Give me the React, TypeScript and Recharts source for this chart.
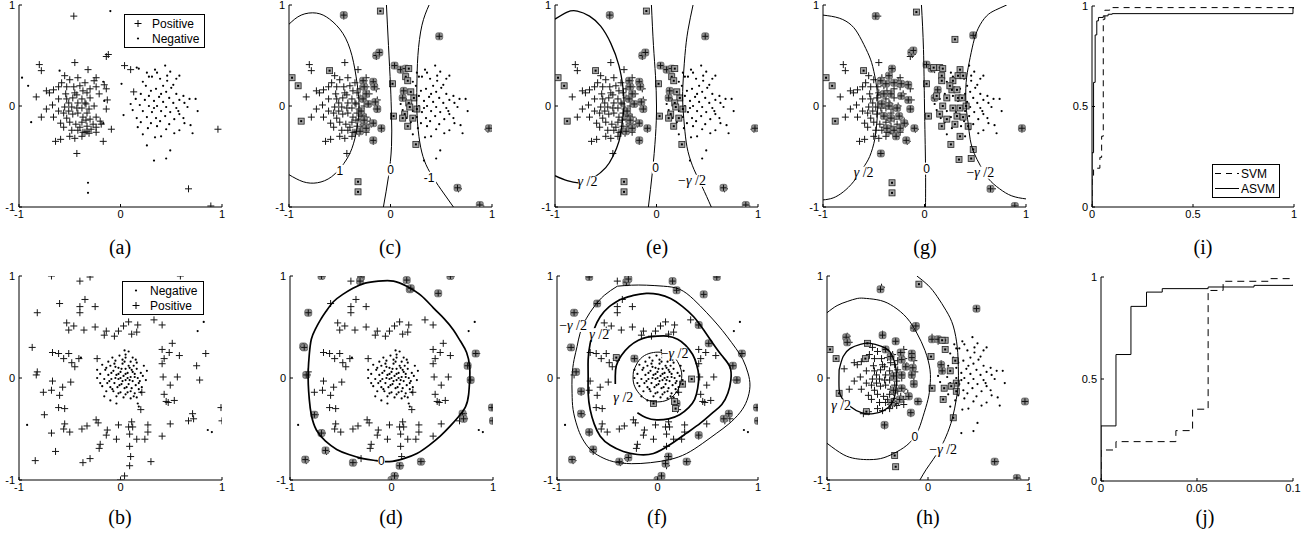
import React from 'react';
import { ScatterChart, Scatter, XAxis, YAxis } from 'recharts';

type Pt = { x: number; y: number };
type Lbl = { x: number; y: number; text: string };

// ---- dataset 1 (panels a, c, e, g, h) ----
const pos1 = [
  [-0.80, 0.41], [-0.78, 0.35], [-0.45, 0.43], [-0.32, 0.36], [-0.55, 0.30], [-0.50, 0.26], [-0.42, 0.28],
  [-0.58, 0.23], [-0.61, 0.19], [-0.66, 0.16], [-0.73, 0.15], [-0.70, 0.13], [-0.53, 0.19], [-0.46, 0.19],
  [-0.40, 0.20], [-0.35, 0.23], [-0.26, 0.25], [-0.24, 0.19], [-0.16, 0.21], [-0.14, 0.17], [-0.83, 0.09],
  [-0.61, 0.07], [-0.53, 0.07], [-0.47, 0.08], [-0.43, 0.11], [-0.33, 0.13], [-0.30, 0.08], [-0.21, 0.12],
  [-0.13, 0.06], [-0.67, 0.01], [-0.51, 0.03], [-0.48, -0.01], [-0.42, 0.03], [-0.38, -0.02], [-0.34, 0.02],
  [-0.31, -0.03], [-0.26, 0.00], [-0.14, -0.03], [-0.73, -0.03], [-0.78, -0.11], [-0.66, -0.11], [-0.56, -0.07],
  [-0.51, -0.05], [-0.47, -0.08], [-0.42, -0.07], [-0.37, -0.11], [-0.33, -0.07], [-0.30, -0.13], [-0.24, -0.11],
  [-0.20, -0.15], [-0.59, -0.17], [-0.50, -0.16], [-0.44, -0.18], [-0.38, -0.16], [-0.33, -0.20], [-0.27, -0.18],
  [-0.19, -0.18], [-0.09, -0.23], [-0.56, -0.21], [-0.48, -0.24], [-0.42, -0.24], [-0.37, -0.26], [-0.33, -0.25],
  [-0.29, -0.23], [-0.24, -0.21], [-0.17, -0.35], [-0.50, -0.30], [-0.45, -0.32], [-0.38, -0.30], [-0.59, -0.33],
  [-0.64, -0.35], [-0.43, -0.47], [-0.35, -0.26], [-0.31, -0.27], [-0.12, 0.51], [-0.14, 0.49], [0.04, 0.40],
  [0.10, 0.36], [0.13, 0.14], [-0.46, 0.89], [0.96, -0.23], [0.67, -0.82], [0.89, -0.99], [-0.24, 0.28],
  [-0.37, 0.15], [-0.45, 0.13], [-0.54, 0.12], [-0.30, 0.17], [-0.38, 0.07], [-0.35, 0.03], [-0.43, -0.02],
  [-0.55, -0.01], [-0.61, -0.05], [-0.34, -0.14], [-0.40, -0.21], [-0.24, -0.26], [-0.53, -0.12],
];
const neg1 = [
  [-0.10, 0.94], [-0.97, 0.28], [-0.91, 0.20], [-0.88, -0.16], [-0.32, -0.76], [-0.32, -0.86], [-0.60, 0.35],
  [0.44, 0.40], [0.34, 0.36], [0.49, 0.34], [0.58, 0.30], [0.28, 0.29], [0.31, 0.29], [0.39, 0.27], [0.46, 0.25],
  [0.16, 0.38], [0.18, 0.37], [0.01, 0.22], [0.55, 0.27], [0.22, 0.24], [0.25, 0.20], [0.42, 0.20], [0.50, 0.18],
  [0.35, 0.17], [0.30, 0.15], [0.45, 0.14], [0.55, 0.12], [0.62, 0.10], [0.20, 0.12], [0.28, 0.10], [0.38, 0.09],
  [0.48, 0.08], [0.58, 0.06], [0.68, 0.07], [0.74, 0.07], [0.15, 0.07], [0.24, 0.06], [0.33, 0.05], [0.42, 0.04],
  [0.52, 0.03], [0.63, 0.03], [0.10, 0.02], [0.19, 0.01], [0.28, 0.00], [0.36, 0.00], [0.45, -0.01], [0.55, -0.02],
  [0.66, -0.01], [0.76, -0.05], [0.12, -0.04], [0.22, -0.05], [0.31, -0.06], [0.40, -0.05], [0.49, -0.06],
  [0.58, -0.08], [0.03, -0.09], [0.16, -0.12], [0.26, -0.11], [0.35, -0.12], [0.44, -0.10], [0.53, -0.13],
  [0.62, -0.12], [0.20, -0.16], [0.30, -0.17], [0.39, -0.15], [0.48, -0.18], [0.17, -0.21], [0.27, -0.22],
  [0.36, -0.20], [0.45, -0.23], [0.53, -0.27], [0.58, -0.24], [0.69, -0.19], [0.71, -0.27], [0.34, -0.31],
  [0.26, -0.39], [0.33, -0.54], [0.45, -0.52], [0.49, -0.44], [0.40, -0.30], [0.22, -0.28], [0.63, -0.17],
  [0.52, 0.21], [0.36, 0.33], [0.26, 0.33], [0.40, 0.12], [0.33, -0.02], [0.57, -0.05], [0.46, 0.30],
  [-0.17, 0.24], [-0.16, 0.05], [-0.17, -0.17],
];

// ---- dataset 2 (panels b, d, f) ----
const pos2 = [
  [-0.68, 1.0], [-0.30, 0.99], [-0.40, 0.95], [0.59, 1.0], [-0.35, 0.77], [-0.60, 0.73], [-0.40, 0.70],
  [-0.25, 0.70], [-0.40, 0.64], [-0.82, 0.64], [-0.53, 0.54], [-0.46, 0.51], [-0.51, 0.47], [-0.36, 0.47],
  [-0.25, 0.50], [-0.14, 0.46], [-0.16, 0.42], [-0.06, 0.41], [-0.02, 0.46], [0.03, 0.51], [0.08, 0.55],
  [0.11, 0.43], [0.17, 0.52], [0.16, 0.45], [0.33, 0.57], [0.41, 0.52], [-0.87, 0.30], [-0.67, 0.25],
  [-0.61, 0.24], [-0.56, 0.19], [-0.51, 0.24], [-0.48, 0.15], [-0.41, 0.19], [-0.45, 0.11], [-0.23, 0.19],
  [0.51, 0.34], [0.41, 0.28], [0.48, 0.25], [0.58, 0.22], [0.43, 0.19], [0.41, 0.14], [0.84, 0.24],
  [0.75, 0.12], [0.78, -0.02], [-0.82, 0.06], [-0.83, 0.03], [-0.67, -0.03], [-0.76, -0.14], [-0.68, -0.12],
  [-0.57, -0.09], [-0.60, -0.17], [-0.49, -0.04], [-0.61, -0.29], [-0.55, -0.30], [-0.75, -0.36],
  [0.42, 0.01], [0.56, 0.01], [0.49, -0.07], [0.21, -0.14], [0.20, -0.31], [0.43, -0.16], [0.45, -0.23],
  [0.53, -0.22], [0.47, -0.24], [0.99, -0.29], [1.0, -0.42], [0.71, -0.35], [0.72, -0.40], [0.67, -0.42],
  [0.49, -0.45], [-0.55, -0.45], [-0.56, -0.50], [-0.50, -0.53], [-0.68, -0.54], [-0.38, -0.50],
  [-0.33, -0.47], [-0.24, -0.41], [-0.22, -0.44], [-0.13, -0.51], [-0.14, -0.56], [-0.04, -0.60],
  [-0.02, -0.46], [0.08, -0.48], [0.09, -0.55], [0.11, -0.43], [0.12, -0.48], [0.09, -0.67], [0.16, -0.60],
  [0.24, -0.60], [0.27, -0.53], [0.27, -0.46], [0.41, -0.57], [-0.20, -0.65], [-0.21, -0.69], [-0.64, -0.72],
  [-0.84, -0.81], [-0.37, -0.83], [-0.30, -0.79], [0.10, -0.77], [0.09, -0.86], [0.04, -0.96], [0.30, -0.82],
  [0.0, -1.0],
];
const neg2 = [
  [0.04, 0.27], [0.05, 0.20], [0.10, 0.16], [-0.05, 0.17], [0.02, 0.14], [0.08, 0.12], [0.13, 0.12],
  [-0.10, 0.12], [-0.02, 0.10], [0.05, 0.09], [0.11, 0.08], [0.16, 0.09], [-0.15, 0.08], [-0.07, 0.07],
  [0.00, 0.06], [0.07, 0.05], [0.14, 0.04], [0.20, 0.05], [-0.20, 0.04], [-0.12, 0.03], [-0.04, 0.03],
  [0.03, 0.02], [0.10, 0.01], [0.17, 0.00], [-0.23, 0.00], [-0.16, -0.01], [-0.09, -0.01], [-0.02, -0.01],
  [0.05, -0.02], [0.12, -0.03], [0.19, -0.03], [0.25, -0.02], [-0.13, -0.05], [-0.06, -0.05], [0.01, -0.06],
  [0.08, -0.06], [0.15, -0.07], [-0.18, -0.08], [-0.10, -0.09], [-0.03, -0.09], [0.04, -0.10], [0.11, -0.10],
  [0.18, -0.11], [-0.14, -0.13], [-0.07, -0.13], [0.00, -0.14], [0.07, -0.14], [0.14, -0.15], [-0.04, -0.18],
  [0.03, -0.19], [0.16, -0.19], [-0.04, -0.25], [0.17, -0.25], [0.18, -0.28], [0.21, -0.09], [0.23, 0.12],
  [-0.18, 0.13], [-0.08, 0.20], [0.12, 0.20], [0.08, 0.26], [-0.01, 0.22], [0.04, 0.16], [-0.12, 0.16],
  [0.16, 0.15], [-0.05, 0.11], [0.09, 0.10], [0.01, 0.09], [-0.09, 0.05], [0.05, 0.04], [0.12, 0.06],
  [-0.02, 0.04], [-0.05, 0.00], [0.02, -0.03], [0.09, -0.02], [-0.11, -0.03], [0.14, 0.01], [-0.01, -0.07],
  [0.06, -0.09], [-0.08, -0.11], [0.10, -0.13], [-0.02, -0.15], [0.05, -0.16], [0.20, -0.14], [-0.20, -0.05],
  [-0.23, 0.08], [0.22, 0.02], [0.26, 0.07], [-0.16, -0.18], [0.10, -0.20], [-0.10, -0.22], [0.07, 0.00],
  [0.00, 0.00], [-0.06, 0.14], [0.18, -0.05], [0.13, -0.18], [0.02, 0.18], [-0.14, 0.10], [0.15, 0.18],
  [0.05, 0.23], [-0.92, -0.46], [0.76, 0.46], [0.82, 0.55], [0.86, -0.51], [0.90, -0.53], [-0.39, 0.20],
];

// ---- support vectors per panel ----
const svPosCE = [
  [-0.46, 0.90], [0.48, 0.69], [-0.14, 0.50], [-0.11, 0.53], [0.04, 0.40], [0.10, 0.36], [0.15, 0.37],
  [-0.17, 0.24], [-0.16, 0.19], [-0.27, 0.25], [-0.26, 0.19], [-0.27, 0.07], [-0.15, 0.04], [-0.13, -0.03],
  [-0.17, -0.17], [-0.26, -0.20], [-0.28, -0.10], [-0.09, -0.22], [-0.17, -0.34], [0.66, -0.81], [0.97, -0.22],
  [0.88, -0.98], [0.13, 0.15], [0.12, 0.08], [-0.26, -0.14], [-0.30, -0.25], [-0.24, 0.12], [-0.22, 0.02],
  [-0.29, -0.05], [-0.24, -0.22],
];
const svNegCE = [
  [-0.10, 0.94], [-0.60, 0.35], [-0.97, 0.28], [-0.91, 0.20], [-0.88, -0.15], [-0.32, -0.75], [-0.32, -0.85],
  [0.02, 0.22], [0.03, -0.10], [0.15, 0.29], [0.17, 0.25], [0.23, 0.08], [0.18, 0.03], [0.19, -0.01],
  [0.14, -0.08], [0.26, -0.03], [0.22, -0.12], [0.17, -0.20], [0.25, -0.38], [0.18, 0.37], [0.12, -0.12],
  [0.20, 0.14],
];
const svPosG = [
  [-0.48, 0.89], [0.48, 0.70], [-0.13, 0.53], [-0.11, 0.55], [0.02, 0.41], [0.07, 0.37], [-0.32, 0.37],
  [-0.43, 0.25], [-0.38, 0.22], [-0.30, 0.23], [-0.23, 0.22], [-0.16, 0.21], [-0.40, 0.12], [-0.33, 0.12],
  [-0.23, 0.10], [-0.16, 0.06], [-0.42, 0.02], [-0.35, 0.00], [-0.27, -0.02], [-0.14, -0.03], [-0.40, -0.10],
  [-0.33, -0.12], [-0.25, -0.10], [-0.20, -0.17], [-0.37, -0.22], [-0.30, -0.24], [-0.24, -0.22], [-0.10, -0.22],
  [-0.18, -0.34], [-0.43, -0.47], [0.65, -0.82], [0.96, -0.22], [0.89, -0.99], [0.13, 0.16], [0.10, 0.08],
  [-0.35, 0.30], [-0.28, -0.30],
];
const svNegG = [
  [-0.08, 0.93], [-0.60, 0.35], [-0.97, 0.28], [-0.91, 0.20], [-0.88, -0.15], [-0.32, -0.76], [-0.32, -0.86],
  [0.30, 0.66], [0.02, 0.22], [0.04, -0.10], [0.09, 0.38], [0.15, 0.38], [0.18, 0.37], [0.17, 0.30],
  [0.17, 0.25], [0.28, 0.25], [0.33, 0.30], [0.35, 0.36], [0.38, 0.30], [0.27, 0.16], [0.32, 0.16],
  [0.22, 0.08], [0.33, 0.08], [0.37, 0.08], [0.18, 0.00], [0.28, -0.02], [0.35, -0.02], [0.41, 0.00],
  [0.15, -0.08], [0.22, -0.13], [0.32, -0.10], [0.38, -0.11], [0.17, -0.20], [0.43, -0.20], [0.35, -0.30],
  [0.26, -0.38], [0.48, -0.43], [0.46, -0.52], [0.34, -0.53], [0.25, 0.20], [0.30, -0.18], [0.12, 0.10],
];
const svPosH = [
  [-0.47, 0.87], [-0.14, 0.49], [-0.12, 0.51], [0.04, 0.38], [0.10, 0.38], [-0.81, 0.40], [-0.80, 0.35],
  [-0.45, 0.42], [-0.32, 0.36], [-0.42, 0.28], [-0.27, 0.25], [-0.16, 0.24], [-0.16, 0.20], [-0.26, 0.18],
  [-0.37, 0.21], [-0.22, 0.11], [-0.15, 0.10], [-0.26, 0.03], [-0.34, 0.02], [-0.16, 0.03], [-0.14, -0.06],
  [-0.26, -0.10], [-0.34, -0.12], [-0.19, -0.18], [-0.28, -0.21], [-0.36, -0.24], [-0.10, -0.23],
  [-0.17, -0.34], [-0.43, -0.46], [0.66, -0.82], [0.96, -0.23], [0.88, -0.98], [0.48, 0.68], [0.13, 0.13],
  [0.14, 0.07],
];
const svNegH = [
  [-0.09, 0.92], [-0.60, 0.34], [-0.97, 0.28], [-0.91, 0.19], [-0.88, -0.15], [-0.61, -0.33], [-0.33, -0.76],
  [-0.32, -0.87], [0.03, 0.21], [0.04, -0.10], [0.25, -0.39], [0.17, 0.37], [0.14, 0.37], [0.17, 0.28],
  [0.27, 0.17], [0.22, 0.07], [0.28, -0.05], [0.16, -0.10], [0.23, -0.08], [0.28, -0.13], [0.15, -0.21],
  [-0.62, 0.19],
];
const svPosD = [
  [-0.69, 1.0], [-0.30, 0.99], [-0.31, 0.95], [0.15, 0.96], [0.18, 0.87], [0.19, 0.88], [0.46, 0.83],
  [0.58, 1.0], [-0.82, 0.64], [-0.87, 0.31], [-0.86, 0.30], [0.83, 0.24], [0.75, 0.12], [0.78, -0.02],
  [-0.84, 0.03], [-0.76, -0.36], [0.99, -0.29], [1.0, -0.42], [0.70, -0.35], [0.71, -0.40], [-0.69, -0.54],
  [-0.65, -0.71], [-0.85, -0.80], [-0.38, -0.83], [0.08, -0.86], [0.29, -0.82], [0.0, -1.0], [0.03, -0.96],
];
const svPosF = [
  [-0.68, 0.99], [-0.31, 0.94], [-0.29, 0.97], [0.15, 0.95], [0.19, 0.86], [0.46, 0.82], [0.59, 0.99],
  [-0.60, 0.73], [-0.83, 0.64], [-0.86, 0.30], [0.41, 0.52], [0.51, 0.34], [0.84, 0.24], [0.75, 0.12],
  [0.79, -0.02], [-0.81, 0.06], [-0.76, -0.13], [-0.76, -0.35], [0.99, -0.29], [1.0, -0.42], [0.71, -0.35],
  [0.66, -0.40], [0.41, -0.56], [-0.68, -0.53], [-0.64, -0.70], [-0.85, -0.80], [-0.38, -0.82], [-0.29, -0.78],
  [0.11, -0.77], [0.08, -0.84], [0.29, -0.82], [0.0, -1.0], [0.04, -0.96], [-0.23, 0.19], [0.19, -0.25],
];
const svNegF = [
  [-0.41, 0.20], [0.34, -0.01], [0.25, -0.06], [-0.04, -0.25], [0.17, -0.23], [0.18, -0.30],
];

// ---- decision contours ----
const curveC1 = [[-1, 0.81], [-0.88, 0.90], [-0.73, 0.92], [-0.60, 0.86], [-0.47, 0.72], [-0.38, 0.50], [-0.33, 0.23], [-0.31, 0], [-0.33, -0.22], [-0.38, -0.42], [-0.46, -0.57], [-0.58, -0.70], [-0.72, -0.76], [-0.86, -0.75], [-1, -0.68]];
const curveC0 = [[-0.04, 1], [-0.02, 0.6], [0, 0.2], [0.01, -0.1], [0.01, -0.4], [-0.02, -0.7], [-0.07, -1]];
const curveCm1 = [[0.38, 1], [0.31, 0.8], [0.27, 0.5], [0.26, 0.2], [0.26, -0.05], [0.28, -0.3], [0.32, -0.5], [0.39, -0.66], [0.50, -0.83], [0.62, -1]];
const labelsC: Lbl[] = [{ x: -0.50, y: -0.64, text: '1' }, { x: 0.0, y: -0.63, text: '0' }, { x: 0.38, y: -0.71, text: '-1' }];

const curveEp = [[-1, 0.86], [-0.88, 0.93], [-0.78, 0.94], [-0.66, 0.89], [-0.55, 0.79], [-0.45, 0.62], [-0.37, 0.40], [-0.33, 0.18], [-0.32, 0], [-0.34, -0.18], [-0.37, -0.35], [-0.43, -0.50], [-0.50, -0.61], [-0.62, -0.71], [-0.75, -0.76], [-0.88, -0.74], [-1, -0.69]];
const curveE0 = [[-0.05, 1], [-0.03, 0.6], [-0.01, 0.3], [0, 0], [-0.01, -0.3], [-0.04, -0.65], [-0.08, -1]];
const curveEm = [[0.36, 1], [0.31, 0.75], [0.28, 0.5], [0.26, 0.2], [0.26, 0], [0.28, -0.25], [0.31, -0.45], [0.37, -0.63], [0.45, -0.80], [0.54, -1]];
const labelsE: Lbl[] = [{ x: -0.68, y: -0.75, text: 'γ/2' }, { x: -0.01, y: -0.61, text: '0' }, { x: 0.35, y: -0.74, text: '−γ/2' }];

const curveGp = [[-1, 0.90], [-0.84, 0.87], [-0.72, 0.80], [-0.64, 0.69], [-0.56, 0.53], [-0.51, 0.39], [-0.47, 0.18], [-0.46, 0], [-0.47, -0.17], [-0.49, -0.33], [-0.54, -0.50], [-0.61, -0.62], [-0.70, -0.75], [-0.80, -0.85], [-0.90, -0.91], [-1, -0.93]];
const curveG0 = [[-0.03, 1], [-0.01, 0.56], [0, 0], [0.01, -0.59], [0.01, -1]];
const curveGm = [[0.81, 1], [0.70, 0.95], [0.61, 0.89], [0.53, 0.77], [0.48, 0.62], [0.44, 0.43], [0.41, 0.23], [0.41, 0], [0.43, -0.17], [0.45, -0.33], [0.49, -0.47], [0.55, -0.59], [0.63, -0.72], [0.74, -0.82], [0.86, -0.89], [1, -0.92]];
const labelsG: Lbl[] = [{ x: -0.60, y: -0.66, text: 'γ/2' }, { x: 0.02, y: -0.62, text: '0' }, { x: 0.55, y: -0.66, text: '−γ/2' }];

const curveHin = [[-0.88, 0.08], [-0.84, 0.21], [-0.77, 0.29], [-0.67, 0.33], [-0.57, 0.34], [-0.46, 0.31], [-0.38, 0.26], [-0.33, 0.15], [-0.31, 0.02], [-0.32, -0.13], [-0.36, -0.25], [-0.44, -0.32], [-0.54, -0.35], [-0.66, -0.34], [-0.77, -0.28], [-0.85, -0.20], [-0.88, -0.11], [-0.88, 0.08]];
const curveH0 = [[-1, 0.64], [-0.90, 0.71], [-0.80, 0.75], [-0.70, 0.78], [-0.61, 0.78], [-0.47, 0.76], [-0.34, 0.70], [-0.21, 0.59], [-0.11, 0.44], [-0.03, 0.27], [0.02, 0.08], [0.02, -0.08], [0, -0.21], [-0.05, -0.38], [-0.11, -0.54], [-0.21, -0.66], [-0.34, -0.74], [-0.47, -0.79], [-0.61, -0.80], [-0.72, -0.79], [-0.84, -0.75], [-1, -0.64]];
const curveHm = [[-0.11, 1], [0.00, 0.91], [0.09, 0.80], [0.18, 0.66], [0.25, 0.51], [0.29, 0.30], [0.30, 0.11], [0.30, -0.05], [0.28, -0.21], [0.24, -0.40], [0.18, -0.57], [0.12, -0.69], [0.05, -0.80], [-0.02, -0.90], [-0.08, -1]];
const labelsH: Lbl[] = [{ x: -0.86, y: -0.27, text: 'γ/2' }, { x: -0.13, y: -0.57, text: '0' }, { x: 0.15, y: -0.70, text: '−γ/2' }];

const curveD0 = [[-0.13, 0.95], [0.02, 0.95], [0.15, 0.90], [0.29, 0.81], [0.41, 0.69], [0.52, 0.58], [0.61, 0.47], [0.68, 0.36], [0.74, 0.25], [0.77, 0.11], [0.77, -0.02], [0.76, -0.16], [0.73, -0.28], [0.66, -0.38], [0.58, -0.47], [0.48, -0.57], [0.37, -0.66], [0.25, -0.74], [0.12, -0.79], [-0.02, -0.82], [-0.15, -0.81], [-0.28, -0.79], [-0.42, -0.75], [-0.54, -0.70], [-0.65, -0.62], [-0.74, -0.51], [-0.79, -0.36], [-0.81, -0.21], [-0.82, -0.06], [-0.82, 0.08], [-0.81, 0.23], [-0.79, 0.38], [-0.75, 0.48], [-0.70, 0.57], [-0.64, 0.66], [-0.57, 0.75], [-0.48, 0.82], [-0.38, 0.88], [-0.26, 0.93], [-0.13, 0.95]];
const labelsD: Lbl[] = [{ x: -0.10, y: -0.81, text: '0' }];

const curveFout = [[-0.40, 0.90], [-0.26, 0.91], [-0.11, 0.91], [0.06, 0.90], [0.22, 0.87], [0.36, 0.77], [0.49, 0.64], [0.60, 0.52], [0.69, 0.41], [0.78, 0.29], [0.85, 0.18], [0.90, 0.05], [0.92, -0.08], [0.89, -0.22], [0.82, -0.34], [0.71, -0.45], [0.59, -0.54], [0.45, -0.64], [0.29, -0.74], [0.12, -0.80], [-0.07, -0.83], [-0.26, -0.84], [-0.44, -0.82], [-0.57, -0.77], [-0.67, -0.70], [-0.75, -0.59], [-0.80, -0.47], [-0.84, -0.31], [-0.85, -0.15], [-0.85, 0.02], [-0.83, 0.18], [-0.80, 0.31], [-0.77, 0.44], [-0.71, 0.58], [-0.63, 0.70], [-0.53, 0.81], [-0.40, 0.90]];
const curveFmid = [[-0.37, 0.77], [-0.24, 0.81], [-0.11, 0.83], [0.01, 0.82], [0.13, 0.78], [0.25, 0.70], [0.36, 0.60], [0.46, 0.47], [0.55, 0.34], [0.64, 0.22], [0.72, 0.11], [0.73, -0.02], [0.70, -0.15], [0.64, -0.26], [0.55, -0.34], [0.43, -0.44], [0.29, -0.54], [0.13, -0.65], [-0.04, -0.74], [-0.20, -0.75], [-0.34, -0.72], [-0.47, -0.66], [-0.57, -0.57], [-0.63, -0.45], [-0.67, -0.31], [-0.69, -0.15], [-0.69, 0.02], [-0.69, 0.18], [-0.67, 0.34], [-0.63, 0.48], [-0.57, 0.60], [-0.48, 0.70], [-0.37, 0.77]];
const curveFin = [[-0.20, -0.34], [-0.11, -0.39], [-0.01, -0.41], [0.11, -0.40], [0.22, -0.36], [0.31, -0.29], [0.37, -0.21], [0.40, -0.10], [0.41, 0.02], [0.39, 0.13], [0.35, 0.23], [0.28, 0.32], [0.20, 0.38], [0.10, 0.41], [0.00, 0.41], [-0.10, 0.40], [-0.19, 0.37], [-0.28, 0.31], [-0.36, 0.22], [-0.41, 0.12], [-0.42, 0.02], [-0.42, -0.06]];
const curveFcore = [[-0.24, 0.06], [-0.20, 0.15], [-0.13, 0.22], [-0.04, 0.25], [0.05, 0.25], [0.14, 0.22], [0.20, 0.16], [0.24, 0.05], [0.23, -0.05], [0.20, -0.12], [0.14, -0.19], [0.05, -0.23], [-0.05, -0.23], [-0.13, -0.20], [-0.20, -0.13], [-0.24, -0.04], [-0.24, 0.06]];
const labelsF: Lbl[] = [{ x: -0.84, y: 0.51, text: '−γ/2' }, { x: -0.58, y: 0.43, text: 'γ/2' }, { x: -0.34, y: -0.19, text: 'γ/2' }, { x: 0.17, y: 0.24, text: '−γ/2' }];

// ---- ROC (false positive rate, true positive rate) ----
const rocSvm = [[0, 0], [0, 0.152], [0.0078, 0.193], [0.039, 0.247], [0.0477, 0.352], [0.0558, 0.934], [0.0636, 0.979], [0.0875, 0.992], [1, 0.992]];
const rocAsvm = [[0, 0], [0, 0.27], [0.0078, 0.62], [0.0156, 0.856], [0.0237, 0.926], [0.0319, 0.943], [0.0558, 0.951], [0.0797, 0.959], [0.1, 0.962], [0.995, 0.99], [1, 0.99]];

const toPts = (a: number[][]): Pt[] => a.map(([x, y]) => ({ x, y }));

const SANS = '"Liberation Sans", Arial, Helvetica, sans-serif';
const SERIF = '"Liberation Serif", "Times New Roman", serif';

const PlusShape = (props: any) => {
  const { cx, cy } = props;
  if (cx == null || cy == null) return <g />;
  return <path d={`M${cx - 3.5},${cy}H${cx + 3.5}M${cx},${cy - 3.5}V${cy + 3.5}`} stroke="#151515" strokeWidth={1} />;
};
const DotShape = (props: any) => {
  const { cx, cy } = props;
  if (cx == null || cy == null) return <g />;
  return <circle cx={cx} cy={cy} r={1.1} fill="#000" />;
};
const SvPosShape = (props: any) => {
  const { cx, cy } = props;
  if (cx == null || cy == null) return <g />;
  return (
    <g>
      <rect x={cx - 3.5} y={cy - 3.5} width={7} height={7} rx={2} fill="#8e8e8e" stroke="#4a4a4a" strokeWidth={0.6} />
      <path d={`M${cx - 3},${cy}H${cx + 3}M${cx},${cy - 3}V${cy + 3}`} stroke="#111" strokeWidth={1} />
    </g>
  );
};
const SvNegShape = (props: any) => {
  const { cx, cy } = props;
  if (cx == null || cy == null) return <g />;
  return (
    <g>
      <rect x={cx - 3} y={cy - 3} width={6} height={6} fill="#a6a6a6" stroke="#222" strokeWidth={0.8} />
      <rect x={cx - 1} y={cy - 1} width={2} height={2} fill="#000" />
    </g>
  );
};
const NoShape = () => <g />;
const LabelShape = (props: any) => {
  const { cx, cy, payload } = props;
  if (cx == null || cy == null || !payload) return <g />;
  const t: string = payload.text;
  const gamma = t.includes('γ');
  const minus = t.startsWith('−');
  const w = gamma ? (minus ? 25 : 18) : t.length * 7;
  return (
    <g>
      <rect x={cx - w / 2} y={cy - 6} width={w} height={12} fill="#fff" />
      {gamma ? (
        <text x={cx} y={cy + 4.5} textAnchor="middle" fontSize={14} fontFamily={SERIF} fill="#000">
          {minus ? '−' : ''}
          <tspan fontStyle="italic">γ</tspan>
          {' /2'}
        </text>
      ) : (
        <text x={cx} y={cy + 4.5} textAnchor="middle" fontSize={12} fontFamily={SANS} fill="#000">{t}</text>
      )}
    </g>
  );
};

type Box = { l: number; t: number; w: number; h: number };
const PADL = 26, PADT = 8, PADR = 12, PADB = 22;
const tickStyle = { fontSize: 11, fill: '#000', fontFamily: SANS };
const lineStyle = { stroke: '#000', strokeWidth: 1 };

function Frame({ box, xDomain = [-1, 1], yDomain = [-1, 1], xTicks = [-1, 0, 1], yTicks = [-1, 0, 1], children }: {
  box: Box; xDomain?: number[]; yDomain?: number[]; xTicks?: number[]; yTicks?: number[]; children: React.ReactNode;
}) {
  return (
    <div style={{ position: 'absolute', left: box.l - PADL, top: box.t - PADT }}>
      <ScatterChart width={box.w + PADL + PADR} height={box.h + PADT + PADB} margin={{ top: PADT, right: PADR, bottom: 0, left: 0 }}>
        <XAxis type="number" dataKey="x" domain={xDomain} ticks={xTicks} interval={0} allowDataOverflow height={PADB}
          tickSize={-3} tickMargin={6} tick={tickStyle} axisLine={lineStyle} tickLine={lineStyle} />
        <XAxis xAxisId="top" orientation="top" type="number" dataKey="x" domain={xDomain} ticks={xTicks} interval={0} allowDataOverflow height={0}
          tickSize={-3} tickFormatter={() => ''} axisLine={lineStyle} tickLine={lineStyle} />
        <YAxis type="number" dataKey="y" domain={yDomain} ticks={yTicks} interval={0} allowDataOverflow width={PADL}
          tickSize={-3} tickMargin={7} tick={tickStyle} axisLine={lineStyle} tickLine={lineStyle} />
        <YAxis yAxisId="right" orientation="right" type="number" dataKey="y" domain={yDomain} ticks={yTicks} interval={0} allowDataOverflow width={0}
          tickSize={-3} tickFormatter={() => ''} axisLine={lineStyle} tickLine={lineStyle} />
        {children}
      </ScatterChart>
    </div>
  );
}

const points = (data: number[][], shape: any, key: string) => (
  <Scatter key={key} data={toPts(data)} shape={shape} isAnimationActive={false} />
);
const curve = (data: number[][], key: string, width = 1) => (
  <Scatter key={key} data={toPts(data)} shape={NoShape} line={{ stroke: '#000', strokeWidth: width, fill: 'none' }}
    lineJointType="natural" isAnimationActive={false} />
);
const labels = (data: Lbl[], key: string) => (
  <Scatter key={key} data={data} shape={LabelShape} isAnimationActive={false} />
);

function Legend({ left, top, width, items }: { left: number; top: number; width: number; items: { mark: string; label: string }[] }) {
  return (
    <div style={{ position: 'absolute', left, top, width, border: '1px solid #000', background: '#fff', padding: '1px 0', fontFamily: SANS, fontSize: 12 }}>
      {items.map((it) => (
        <div key={it.label} style={{ display: 'flex', alignItems: 'center', height: 15 }}>
          <svg width={it.mark === 'dash' || it.mark === 'solid' ? 28 : 27} height={15}>
            {it.mark === 'plus' && <path d="M13,4V11M9.5,7.5H16.5" stroke="#000" strokeWidth={1} />}
            {it.mark === 'dot' && <circle cx={13} cy={7.5} r={1.1} fill="#000" />}
            {it.mark === 'dash' && <path d="M2,7.5H26" stroke="#000" strokeWidth={1} strokeDasharray="6 5" />}
            {it.mark === 'solid' && <path d="M2,7.5H26" stroke="#000" strokeWidth={1} />}
          </svg>
          <span>{it.label}</span>
        </div>
      ))}
    </div>
  );
}

function Caption({ x, y, text }: { x: number; y: number; text: string }) {
  return (
    <div style={{ position: 'absolute', left: x - 30, top: y - 12, width: 60, textAlign: 'center', fontFamily: SERIF, fontSize: 20, lineHeight: '24px' }}>
      {text}
    </div>
  );
}

const boxes: Record<string, Box> = {
  a: { l: 19, t: 5, w: 203, h: 202 },
  c: { l: 289, t: 5, w: 203, h: 202 },
  e: { l: 555, t: 5, w: 203, h: 202 },
  g: { l: 823, t: 5, w: 203, h: 202 },
  i: { l: 1092, t: 6, w: 202, h: 201 },
  b: { l: 19, t: 276, w: 203, h: 204 },
  d: { l: 290, t: 276, w: 203, h: 204 },
  f: { l: 557, t: 276, w: 201, h: 204 },
  h: { l: 827, t: 276, w: 202, h: 204 },
  j: { l: 1101, t: 277, w: 192, h: 204 },
};

export default function App() {
  return (
    <div style={{ position: 'absolute', left: 0, top: 0, width: 1313, height: 540, background: '#fff', overflow: 'hidden' }}>
      <Frame box={boxes.a}>
        {[points(pos1, PlusShape, 'p'), points(neg1, DotShape, 'n')]}
      </Frame>
      <Legend left={124} top={14} width={79} items={[{ mark: 'plus', label: 'Positive' }, { mark: 'dot', label: 'Negative' }]} />

      <Frame box={boxes.c}>
        {[points(pos1, PlusShape, 'p'), points(neg1, DotShape, 'n'), points(svPosCE, SvPosShape, 'sp'), points(svNegCE, SvNegShape, 'sn'),
          curve(curveC1, 'c1'), curve(curveC0, 'c0'), curve(curveCm1, 'cm'), labels(labelsC, 'l')]}
      </Frame>

      <Frame box={boxes.e}>
        {[points(pos1, PlusShape, 'p'), points(neg1, DotShape, 'n'), points(svPosCE, SvPosShape, 'sp'), points(svNegCE, SvNegShape, 'sn'),
          curve(curveEp, 'c1', 1.3), curve(curveE0, 'c0'), curve(curveEm, 'cm'), labels(labelsE, 'l')]}
      </Frame>

      <Frame box={boxes.g}>
        {[points(pos1, PlusShape, 'p'), points(neg1, DotShape, 'n'), points(svPosG, SvPosShape, 'sp'), points(svNegG, SvNegShape, 'sn'),
          curve(curveGp, 'c1'), curve(curveG0, 'c0'), curve(curveGm, 'cm'), labels(labelsG, 'l')]}
      </Frame>

      <Frame box={boxes.i} xDomain={[0, 1]} yDomain={[0, 1]} xTicks={[0, 0.5, 1]} yTicks={[0, 0.5, 1]}>
        {[
          <Scatter key="svm" data={toPts(rocSvm)} shape={NoShape} line={{ stroke: '#000', strokeWidth: 1, strokeDasharray: '6 5', fill: 'none' }} lineJointType="stepAfter" isAnimationActive={false} />,
          <Scatter key="asvm" data={toPts(rocAsvm)} shape={NoShape} line={{ stroke: '#000', strokeWidth: 1, fill: 'none' }} lineJointType="stepAfter" isAnimationActive={false} />,
        ]}
      </Frame>
      <Legend left={1212} top={164} width={66} items={[{ mark: 'dash', label: 'SVM' }, { mark: 'solid', label: 'ASVM' }]} />

      <Frame box={boxes.b}>
        {[points(pos2, PlusShape, 'p'), points(neg2, DotShape, 'n')]}
      </Frame>
      <Legend left={122} top={281} width={80} items={[{ mark: 'dot', label: 'Negative' }, { mark: 'plus', label: 'Positive' }]} />

      <Frame box={boxes.d}>
        {[points(pos2, PlusShape, 'p'), points(neg2, DotShape, 'n'), points(svPosD, SvPosShape, 'sp'),
          curve(curveD0, 'c0', 1.7), labels(labelsD, 'l')]}
      </Frame>

      <Frame box={boxes.f}>
        {[points(pos2, PlusShape, 'p'), points(neg2, DotShape, 'n'), points(svPosF, SvPosShape, 'sp'), points(svNegF, SvNegShape, 'sn'),
          curve(curveFout, 'c1'), curve(curveFmid, 'c2', 1.7), curve(curveFin, 'c3', 1.7), curve(curveFcore, 'c4'), labels(labelsF, 'l')]}
      </Frame>

      <Frame box={boxes.h}>
        {[points(pos1, PlusShape, 'p'), points(neg1, DotShape, 'n'), points(svPosH, SvPosShape, 'sp'), points(svNegH, SvNegShape, 'sn'),
          curve(curveHin, 'c1', 1.3), curve(curveH0, 'c0'), curve(curveHm, 'cm'), labels(labelsH, 'l')]}
      </Frame>

      <Frame box={boxes.j} xDomain={[0, 0.1]} yDomain={[0, 1]} xTicks={[0, 0.05, 0.1]} yTicks={[0, 0.5, 1]}>
        {[
          <Scatter key="svm" data={toPts(rocSvm)} shape={NoShape} line={{ stroke: '#000', strokeWidth: 1, strokeDasharray: '7 5', fill: 'none' }} lineJointType="stepAfter" isAnimationActive={false} />,
          <Scatter key="asvm" data={toPts(rocAsvm)} shape={NoShape} line={{ stroke: '#000', strokeWidth: 1, fill: 'none' }} lineJointType="stepAfter" isAnimationActive={false} />,
        ]}
      </Frame>

      <Caption x={120} y={247} text="(a)" />
      <Caption x={390} y={247} text="(c)" />
      <Caption x={657} y={247} text="(e)" />
      <Caption x={925} y={247} text="(g)" />
      <Caption x={1203} y={247} text="(i)" />
      <Caption x={120} y={517} text="(b)" />
      <Caption x={391} y={517} text="(d)" />
      <Caption x={657} y={517} text="(f)" />
      <Caption x={928} y={517} text="(h)" />
      <Caption x={1205} y={517} text="(j)" />
    </div>
  );
}
